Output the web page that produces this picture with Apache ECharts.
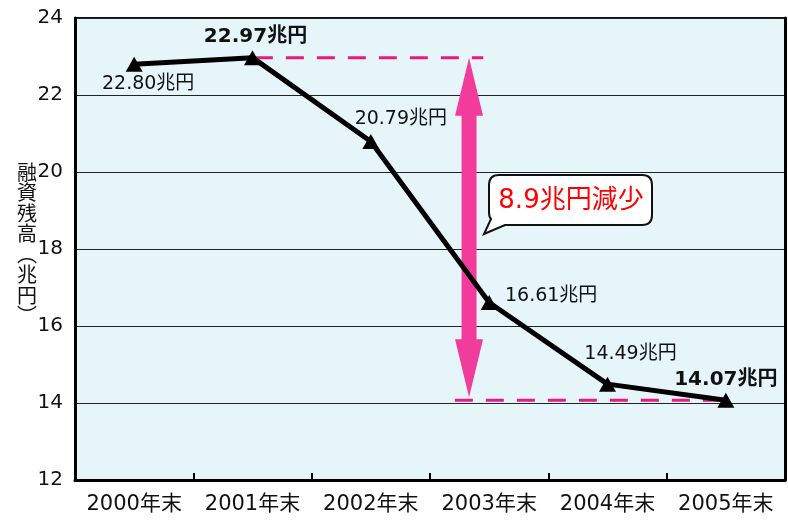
<!DOCTYPE html>
<html><head><meta charset="utf-8">
<script src="https://cdn.jsdelivr.net/npm/echarts@6/dist/echarts.min.js"></script>
<style>html,body{margin:0;padding:0;background:#fff}#c{width:788px;height:525px}</style>
</head><body><div id="c"></div>
<script>
var categories = ['2000年末','2001年末','2002年末','2003年末','2004年末','2005年末'];
var values = [22.80, 22.97, 20.79, 16.61, 14.49, 14.07];
var labelTexts = ['22.80兆円','22.97兆円','20.79兆円','16.61兆円','14.49兆円','14.07兆円'];
var boldLabel = [false, true, false, false, false, true];
var labelOffsets = [[14,20],[3,-21],[30,-23],[62,-6],[23,-30],[0,-21]];
var yTicks = [12,14,16,18,20,22,24];
var topDash = [[1.02,22.97],[2.95,22.97]];
var bottomDash = [[2.71,14.07],[5.02,14.07]];
var arrowSpan = [2.83, 22.97, 14.15];
var calloutText = '8.9兆円減少';
var yName = ['融','資','残','高','︵','兆','円','︶'];

var FONT = 'DejaVu Sans, "Noto Sans CJK JP", sans-serif';
var chart = echarts.init(document.getElementById('c'));

var mainData = values.map(function(v,i){
  return {value:v, label:{show:true, position:'inside', offset:labelOffsets[i],
    formatter:labelTexts[i], fontWeight: boldLabel[i]?'bold':'normal',
    fontSize: boldLabel[i]?20:19, color:'#111', fontFamily:FONT}};
});

chart.setOption({
  animation:false,
  grid:{left:75,right:3,top:18,bottom:45,show:true,backgroundColor:'#e5f5f9',borderColor:'#111',borderWidth:2},
  xAxis:[{type:'category',data:categories,boundaryGap:true,
    axisLine:{onZero:false,lineStyle:{color:'#000',width:3}},
    axisTick:{show:true,inside:true,interval:0,length:7,lineStyle:{color:'#000',width:2}},
    axisLabel:{interval:0,fontSize:21,color:'#111',margin:14,fontFamily:FONT},
    splitLine:{show:false}},
    {type:'value',min:-0.5,max:5.5,show:false}],
  yAxis:[{type:'value',min:yTicks[0],max:yTicks[yTicks.length-1],interval:2,
    axisLine:{show:true,onZero:false,lineStyle:{color:'#000',width:3}},
    axisTick:{show:false},
    axisLabel:{fontSize:20,color:'#111',margin:12,fontFamily:FONT},
    splitLine:{show:true,lineStyle:{color:'#222',width:1}}},
    {type:'value',position:'right',min:12,max:24,interval:2,
    axisLine:{show:true,onZero:false,lineStyle:{color:'#000',width:3}},axisTick:{show:false},axisLabel:{show:false},splitLine:{show:false}}],
  series:[
    {type:'line',xAxisIndex:1,yAxisIndex:0,data:topDash,symbol:'none',z:1,silent:true,
      lineStyle:{color:'#e8197f',width:3,type:[18,13]}},
    {type:'line',xAxisIndex:1,yAxisIndex:0,data:bottomDash,symbol:'none',z:1,silent:true,
      lineStyle:{color:'#e8197f',width:3,type:[18,13]}},
    {type:'custom',xAxisIndex:1,yAxisIndex:0,z:2,silent:true,data:[arrowSpan],
      renderItem:function(params,api){
        var t=api.coord([api.value(0),api.value(1)]);
        var b=api.coord([api.value(0),api.value(2)]);
        var x=t[0],yt=t[1],yb=b[1],hw=14,sw=7.5,hl=58;
        return {type:'polygon',shape:{points:[[x,yt],[x+hw,yt+hl],[x+sw,yt+hl],[x+sw,yb-hl],[x+hw,yb-hl],[x,yb],[x-hw,yb-hl],[x-sw,yb-hl],[x-sw,yt+hl],[x-hw,yt+hl]]},
          style:{fill:'#f23c9c'}};
      }},
    {type:'line',xAxisIndex:0,yAxisIndex:0,data:mainData,z:5,symbol:'triangle',symbolSize:[17,15],
      itemStyle:{color:'#000'},lineStyle:{color:'#000',width:5},
      emphasis:{disabled:true}},
    {type:'custom',coordinateSystem:'none',z:10,silent:true,data:[0],
      renderItem:function(){
        return {type:'group',children:[
          {type:'path',shape:{pathData:'M499,175 L642,175 Q652,175 652,185 L652,215 Q652,225 642,225 L505,225 L484,234 L491,219 Q489,217 489,212 L489,185 Q489,175 499,175 Z'},
            style:{fill:'#fff',stroke:'#111',lineWidth:2}},
          {type:'text',x:571,y:201,style:{text:calloutText,fill:'#ff0000',fontSize:26,fontFamily:FONT,align:'center',verticalAlign:'middle'}},
          {type:'text',x:27,y:162,style:{text:yName.join('\n'),fontSize:20,lineHeight:20.5,fill:'#111',
            fontFamily:'"Noto Sans CJK JP", sans-serif',align:'center',verticalAlign:'top'}}
        ]};
      }}
  ]
});
</script></body></html>
